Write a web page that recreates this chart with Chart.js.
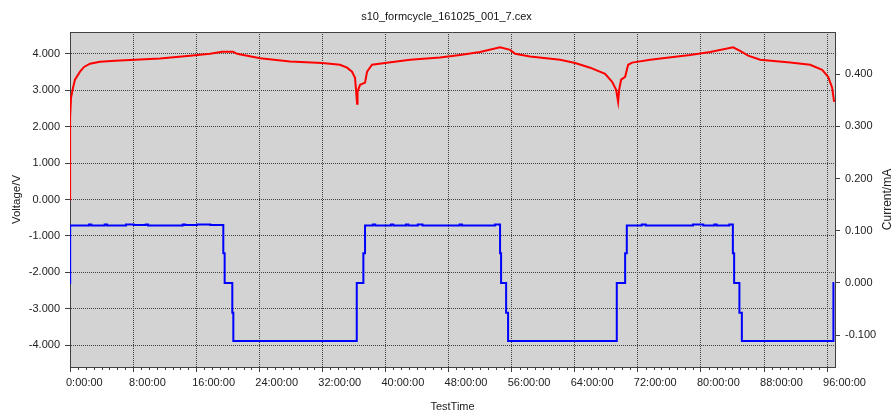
<!DOCTYPE html>
<html>
<head>
<meta charset="utf-8">
<script src="https://cdn.jsdelivr.net/npm/chart.js@4.4.0/dist/chart.umd.min.js"></script>
<style>
    body { margin: 0; background: #fff; }
    canvas { display: block; }
</style>
</head>
<body>
<canvas id="chart" width="893" height="415"></canvas>
<script>
// voltage curve (hours, V)
const voltTime = [0, 0.01, 0.13, 0.38, 0.63, 1.27, 1.78, 2.54, 3.80, 5.71, 8.24, 11.41, 15.22, 17.76, 19.28, 20.67, 21.18,
    24.10, 27.90, 31.96, 34.24, 35.13, 35.76, 36.14, 36.27, 36.40, 36.46, 36.78, 37.41, 37.67, 38.30, 39.95, 43.12,
    46.92, 49.46, 52.00, 54.53, 55.80, 56.44, 58.34, 62.14, 64.05, 65.95, 67.85, 68.74, 69.25, 69.50, 69.63, 69.88,
    70.39, 70.77, 71.28, 73.56, 78.63, 81.17, 84.08, 84.97, 85.99, 87.51, 91.31, 93.85, 95.37, 96.13, 96.64, 96.89];
const voltage = [0.00, 2.25, 2.79, 3.07, 3.29, 3.51, 3.64, 3.73, 3.78, 3.81, 3.84, 3.87, 3.95, 4.00, 4.06, 4.06, 4.00,
    3.88, 3.79, 3.75, 3.70, 3.62, 3.51, 3.34, 3.01, 2.63, 2.96, 3.15, 3.21, 3.51, 3.70, 3.75, 3.84,
    3.90, 3.97, 4.05, 4.18, 4.11, 4.00, 3.93, 3.84, 3.75, 3.62, 3.45, 3.23, 3.01, 2.68, 3.01, 3.29,
    3.37, 3.70, 3.76, 3.84, 3.97, 4.05, 4.18, 4.08, 3.95, 3.84, 3.76, 3.70, 3.56, 3.37, 3.07, 2.68];

// current steps (hours, mA) - each value holds until the next time
const curTime = [0, 0.02, 2.4, 2.7, 4.4, 4.7, 7.1, 8.1, 9.6, 9.9, 14.3, 14.6, 16.1, 17.8, 19.44, 19.61, 20.58, 20.71,
    36.36, 37.20, 37.41, 38.4, 38.7, 40.7, 41.0, 42.6, 42.9, 44.1, 44.7, 49.4, 49.7, 53.9, 54.53, 54.66, 55.30, 55.55,
    69.33, 70.39, 70.60, 72.5, 73.0, 79.0, 80.3, 81.7, 82.0, 83.6, 84.05, 84.21, 84.88, 85.19, 96.80, 96.9];
const current = [0.000, 0.110, 0.112, 0.110, 0.112, 0.110, 0.112, 0.111, 0.112, 0.110, 0.112, 0.111, 0.112, 0.111, 0.057, 0.000, -0.057, -0.111,
    0.000, 0.057, 0.110, 0.112, 0.110, 0.112, 0.110, 0.112, 0.110, 0.112, 0.110, 0.112, 0.110, 0.112, 0.057, 0.000, -0.057, -0.111,
    0.000, 0.057, 0.110, 0.112, 0.110, 0.112, 0.110, 0.112, 0.110, 0.112, 0.057, 0.000, -0.057, -0.111, 0.000, 0.000];

const timeTicks = [0, 8, 16, 24, 32, 40, 48, 56, 64, 72, 80, 88, 96];
const voltTicks = [-4, -3, -2, -1, 0, 1, 2, 3, 4];
const curTicks = [-0.1, 0, 0.1, 0.2, 0.3, 0.4];

const FONT = 'Liberation Sans';
const gridColor = '#404040';

const plotDecor = {
    id: 'plotDecor',
    beforeDraw: function(chart) {
        const a = chart.chartArea;
        const ctx = chart.ctx;
        ctx.save();
        ctx.fillStyle = '#d3d3d3';
        ctx.fillRect(a.left, a.top, a.right - a.left, a.bottom - a.top);
        ctx.restore();
    },
    afterDraw: function(chart) {
        const a = chart.chartArea;
        const ctx = chart.ctx;
        const x = chart.scales.x;
        ctx.save();
        // top border
        ctx.strokeStyle = '#404040';
        ctx.lineWidth = 1;
        ctx.beginPath();
        ctx.moveTo(a.left, a.top + 0.5);
        ctx.lineTo(a.right, a.top + 0.5);
        ctx.stroke();
        // minor ticks every hour
        ctx.beginPath();
        for (let h = 1; h < 97; h++) {
            if (h % 8 === 0) continue;
            const px = Math.round(x.getPixelForValue(h)) + 0.5;
            ctx.moveTo(px, a.bottom);
            ctx.lineTo(px, a.bottom + 3);
        }
        ctx.stroke();
        // right axis title, reading bottom to top
        ctx.translate(888, (a.top + a.bottom) / 2);
        ctx.rotate(-Math.PI / 2);
        ctx.fillStyle = '#222';
        ctx.font = '12px "' + FONT + '"';
        ctx.textAlign = 'center';
        ctx.textBaseline = 'middle';
        ctx.fillText('Current/mA', 0, 0);
        ctx.restore();
    }
};

const config = {
    type: 'line',
    data: {
        datasets: [
            {
                label: 'Voltage',
                data: voltTime.map((t, i) => ({ x: t, y: voltage[i] })),
                yAxisID: 'y',
                borderColor: '#ff0000',
                backgroundColor: '#ff0000',
                borderWidth: 2,
                pointRadius: 0,
                tension: 0
            },
            {
                label: 'Current',
                data: curTime.map((t, i) => ({ x: t, y: current[i] })),
                yAxisID: 'y1',
                borderColor: '#0000ff',
                backgroundColor: '#0000ff',
                borderWidth: 2,
                pointRadius: 0,
                stepped: true
            }
        ]
    },
    options: {
        responsive: false,
        animation: false,
        layout: { padding: 0 },
        plugins: {
            legend: { display: false },
            tooltip: { enabled: false },
            title: {
                display: true,
                text: 's10_formcycle_161025_001_7.cex',
                color: '#111',
                font: { family: FONT, size: 11, weight: 'normal' },
                padding: { top: 10, bottom: 8.8 }
            }
        },
        scales: {
            x: {
                type: 'linear',
                min: 0,
                max: 97,
                afterBuildTicks: s => { s.ticks = timeTicks.map(v => ({ value: v })); },
                afterFit: s => { s.height = 48; },
                ticks: {
                    callback: v => v + ':00:00',
                    align: 'start',
                    labelOffset: -4,
                    maxRotation: 0,
                    autoSkip: false,
                    padding: 4,
                    color: '#222',
                    font: { family: FONT, size: 11 }
                },
                grid: { color: gridColor, tickLength: 5, tickColor: '#404040' },
                border: { color: '#404040', dash: [1, 1] },
                title: {
                    display: true,
                    text: 'TestTime',
                    color: '#222',
                    font: { family: FONT, size: 11 },
                    padding: { top: 0, bottom: 1 }
                }
            },
            y: {
                position: 'left',
                min: -4.6,
                max: 4.6,
                afterBuildTicks: s => { s.ticks = voltTicks.map(v => ({ value: v })); },
                afterFit: s => { s.width = 70; },
                ticks: {
                    callback: v => v.toFixed(3),
                    padding: 5,
                    color: '#222',
                    font: { family: FONT, size: 11 }
                },
                grid: { color: gridColor, tickLength: 5, tickColor: '#404040' },
                border: { color: '#404040', dash: [1, 1] },
                title: {
                    display: true,
                    text: 'Voltage/V',
                    color: '#222',
                    font: { family: FONT, size: 11.5 },
                    padding: { top: 10, bottom: 0 }
                }
            },
            y1: {
                position: 'right',
                min: -0.161,
                max: 0.481,
                afterBuildTicks: s => { s.ticks = curTicks.map(v => ({ value: v })); },
                afterFit: s => { s.width = 58; },
                ticks: {
                    callback: v => v.toFixed(3),
                    padding: 5,
                    color: '#222',
                    font: { family: FONT, size: 11 }
                },
                grid: { drawOnChartArea: false, tickLength: 5, tickColor: '#404040' },
                border: { color: '#404040' }
            }
        }
    },
    plugins: [plotDecor]
};

window.statsChart = new Chart(document.getElementById('chart'), config);
</script>
</body>
</html>
